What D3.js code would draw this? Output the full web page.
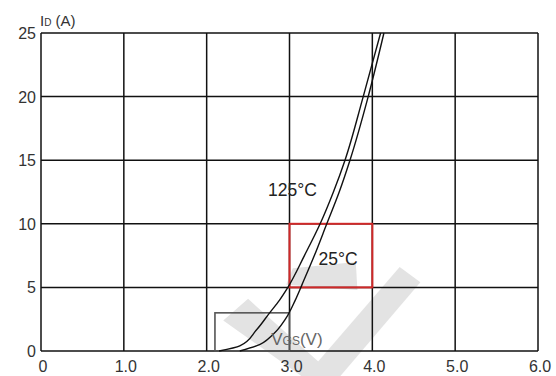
<!DOCTYPE html>
<html>
<head>
<meta charset="utf-8">
<script src="https://cdn.jsdelivr.net/npm/d3@7/dist/d3.min.js"></script>
<style>
  html, body { margin: 0; padding: 0; background: #fff; }
  svg text { font-family: "Liberation Sans", Arial, sans-serif; }
</style>
</head>
<body>
<div id="chart"></div>
<script>
// Datos (Vgs en V, Id en A)
var xTicks = [0, 1, 2, 3, 4, 5, 6];
var xTickLabels = ["0", "1.0", "2.0", "3.0", "4.0", "5.0", "6.0"];
var yTicks = [0, 5, 10, 15, 20, 25];

var curva125Vgs = [2.15, 2.40, 2.60, 2.76, 2.88, 2.98, 3.18, 3.37, 3.53, 3.67, 3.89, 4.10];
var curva125Id  = [0, 0.4, 1.65, 3.0, 4.0, 5.0, 7.5, 10, 12.5, 15, 20, 25];
var curva25Vgs  = [2.40, 2.60, 2.80, 2.95, 3.07, 3.15, 3.30, 3.45, 3.60, 3.73, 3.95, 4.14];
var curva25Id   = [0, 0.4, 1.3, 2.5, 4.0, 5.2, 7.5, 10, 12.5, 15, 20, 25];

// Recuadros marcados (Vgs desde/hasta, Id desde/hasta)
var boxGris = [2.1, 3.0, 0, 3];
var boxRojo = [3.0, 4.0, 5, 10];

var svgWidth = 556;
var svgHeight = 376;
var margin = {left: 41, right: 18, top: 33, bottom: 25};

var svg = d3.select("#chart")
  .append("svg")
  .attr("width", svgWidth)
  .attr("height", svgHeight);

var x = d3.scaleLinear().domain([0, 6]).range([margin.left, svgWidth - margin.right]);
var y = d3.scaleLinear().domain([0, 25]).range([svgHeight - margin.bottom, margin.top]);

// Marca de agua (muy tenue), en unidades del grafico
var marca = [
  [[2.20, 2.4], [2.50, 4.1], [3.55, -2.0], [3.15, -2.0]],
  [[3.19, -2.0], [4.33, 6.6], [4.58, 5.4], [3.61, -2.0]],
  [[2.96, 5.2], [3.04, 6.5], [3.80, 7.0], [3.82, 4.8]]
];
svg.selectAll("polygon.marca")
  .data(marca)
  .enter().append("polygon")
  .attr("class", "marca")
  .attr("points", function(d){ return d.map(function(p){ return x(p[0]) + "," + y(p[1]); }).join(" "); })
  .attr("fill", "#e3e3e3");

// Grilla
svg.selectAll("line.vgrid")
  .data(xTicks)
  .enter().append("line")
  .attr("x1", function(d){ return x(d); })
  .attr("x2", function(d){ return x(d); })
  .attr("y1", y(0))
  .attr("y2", y(25))
  .attr("stroke", "#111")
  .attr("stroke-width", 1.5);

svg.selectAll("line.hgrid")
  .data(yTicks)
  .enter().append("line")
  .attr("x1", x(0))
  .attr("x2", x(6))
  .attr("y1", function(d){ return y(d); })
  .attr("y2", function(d){ return y(d); })
  .attr("stroke", "#111")
  .attr("stroke-width", 1.5);

// Etiquetas de ejes
svg.selectAll("text.xlab")
  .data(xTicks)
  .enter().append("text")
  .attr("x", function(d){ return x(d) + 2; })
  .attr("y", y(0) + 21)
  .attr("text-anchor", "middle")
  .attr("font-size", 16)
  .attr("fill", "#333")
  .text(function(d, i){ return xTickLabels[i]; });

svg.selectAll("text.ylab")
  .data(yTicks)
  .enter().append("text")
  .attr("x", x(0) - 5)
  .attr("y", function(d){ return y(d) + 6; })
  .attr("text-anchor", "end")
  .attr("font-size", 16)
  .attr("fill", "#333")
  .text(function(d){ return d; });

var ylabel = svg.append("text")
  .attr("x", x(0) - 1)
  .attr("y", y(25) - 7)
  .attr("font-size", 15)
  .attr("fill", "#333");
ylabel.append("tspan").text("I");
ylabel.append("tspan").attr("font-size", 10).text("D");
ylabel.append("tspan").text(" (A)");

// Recuadros
function dibujarBox(b, color, ancho) {
  svg.append("rect")
    .attr("x", x(b[0]))
    .attr("y", y(b[3]))
    .attr("width", x(b[1]) - x(b[0]))
    .attr("height", y(b[2]) - y(b[3]))
    .attr("fill", "none")
    .attr("stroke", color)
    .attr("stroke-width", ancho);
}
dibujarBox(boxGris, "#555", 1.6);
dibujarBox(boxRojo, "#d02828", 2);

// Curvas
var linea = d3.line()
  .x(function(d){ return x(d[0]); })
  .y(function(d){ return y(d[1]); })
  .curve(d3.curveMonotoneY);

svg.append("path")
  .datum(d3.zip(curva125Vgs, curva125Id))
  .attr("d", linea)
  .attr("fill", "none")
  .attr("stroke", "#111")
  .attr("stroke-width", 1.4);

svg.append("path")
  .datum(d3.zip(curva25Vgs, curva25Id))
  .attr("d", linea)
  .attr("fill", "none")
  .attr("stroke", "#111")
  .attr("stroke-width", 1.4);

// Etiquetas de curvas
svg.append("text")
  .attr("x", x(2.74))
  .attr("y", y(12.7) + 7)
  .attr("font-size", 17.5)
  .attr("fill", "#222")
  .text("125°C");

svg.append("text")
  .attr("x", x(3.35))
  .attr("y", y(7.3) + 7)
  .attr("font-size", 17.5)
  .attr("fill", "#222")
  .text("25°C");

var xlabel = svg.append("text")
  .attr("x", x(2.78))
  .attr("y", y(0) - 6)
  .attr("font-size", 17)
  .attr("fill", "#666");
xlabel.append("tspan").text("V");
xlabel.append("tspan").attr("font-size", 12).text("GS");
xlabel.append("tspan").text("(V)");
</script>
</body>
</html>
